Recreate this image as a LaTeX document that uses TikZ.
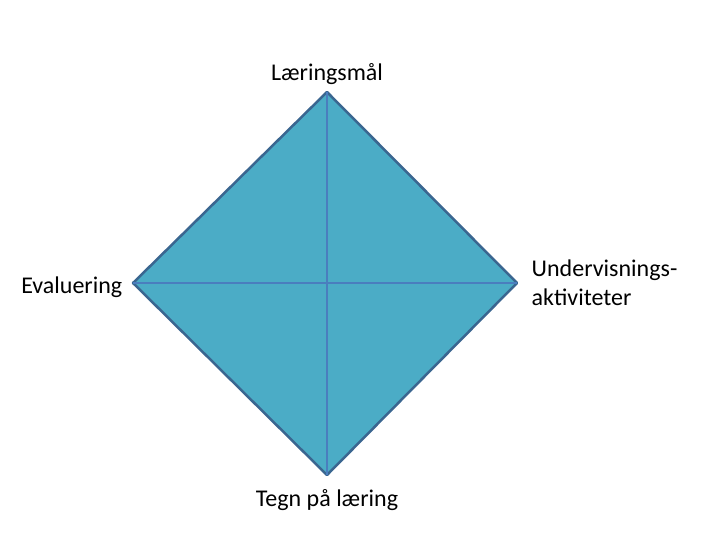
\documentclass[tikz,border=0pt]{standalone}
\usepackage{fontspec}
\setmainfont{Carlito}
\usetikzlibrary{positioning,calc}
\definecolor{aqua}{HTML}{4BACC6}
\definecolor{rim}{HTML}{3A6690}
\definecolor{cross}{HTML}{4A7EBE}
\begin{document}
\begin{tikzpicture}[x=1pt,y=-1pt,
  lbl/.style={font=\fontsize{24}{29}\selectfont, inner sep=0pt}]
          \useasboundingbox (0,0) rectangle (720,540);
          \node[name=T] at (327, 92) {};
          \node[name=R] at (517, 283) {};
          \node[name=B] at (327, 475) {};
          \node[name=L] at (133, 283) {};

          \filldraw[fill=aqua, draw=rim, line width=2.5pt, line
          join=round] (T.center) -- (R.center) -- (B.center) --
          (L.center) -- cycle; \draw[color=cross, line width=2.5pt,
          line cap=butt] (T.center) -- (B.center); \draw[color=cross,
          line width=2.5pt, line cap=butt] (L.center) -- (R.center);

          \node[lbl, name=goal, above=4pt of T] {Læringsmål};
          \node[lbl, name=eval, left=7pt of L, yshift=-4pt] {Evaluering};
          \node[lbl, name=act, right=11pt of R, align=left]
          {Undervisnings-\\aktiviteter};
          \node[lbl, name=sign, below=11pt of B] {Tegn på læring};
        \end{tikzpicture}
\end{document}
